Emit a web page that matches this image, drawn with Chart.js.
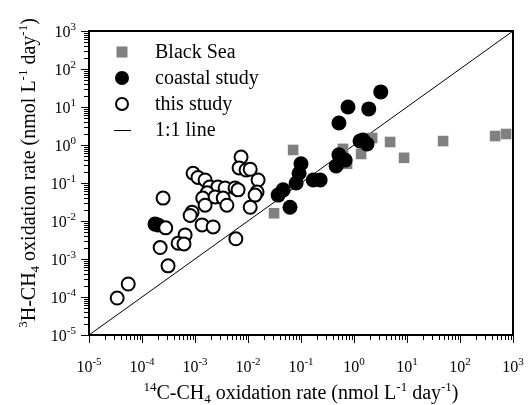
<!DOCTYPE html>
<html>
<head>
<meta charset="utf-8">
<script src="https://cdn.jsdelivr.net/npm/chart.js@4.4.1/dist/chart.umd.min.js"></script>
<style>
  html, body { margin: 0; padding: 0; background: #fff; }
</style>
</head>
<body>
<canvas id="grafico" width="529" height="405"></canvas>
<script>
// Decades shown on both log axes
const decades = [-5, -4, -3, -2, -1, 0, 1, 2, 3];

// Black Sea (gray squares)
const blackSeaX = [0.071, 0.62, 0.74, 1.36, 2.2, 4.8, 8.8, 48, 460, 740, 0.031];
const blackSeaY = [0.74, 0.79, 0.32, 0.58, 1.53, 1.2, 0.46, 1.27, 1.72, 1.95, 0.016];

// coastal study (filled circles)
const coastalX = [3.2, 0.77, 1.9, 0.52, 1.48, 1.76, 1.3, 0.52, 0.68, 0.46, 0.10, 0.092, 0.081, 0.17, 0.23, 0.046, 0.037, 0.062, 0.0002, 0.000176];
const coastalY = [25, 10, 8.9, 3.8, 1.35, 1.06, 1.27, 0.55, 0.40, 0.28, 0.32, 0.18, 0.10, 0.12, 0.12, 0.066, 0.048, 0.023, 0.0079, 0.0083];

// this study (open circles)
const thisStudyX = [0.0074, 0.0068, 0.0092, 0.011, 0.00092, 0.00114, 0.00155, 0.0155, 0.0019, 0.0027, 0.0037, 0.0057, 0.0065, 0.0017, 0.0148, 0.0136, 0.0014, 0.0024, 0.0034, 0.00155, 0.0040, 0.011, 0.00088, 0.00081, 0.00025, 0.00136, 0.0022, 0.00028, 0.00065, 0.00048, 0.00062, 0.00022, 0.0059, 0.000034, 0.000055, 0.00031];
const thisStudyY = [0.48, 0.25, 0.22, 0.23, 0.18, 0.14, 0.12, 0.12, 0.079, 0.079, 0.074, 0.074, 0.066, 0.055, 0.058, 0.048, 0.040, 0.043, 0.040, 0.026, 0.026, 0.023, 0.017, 0.014, 0.040, 0.0079, 0.0070, 0.0066, 0.0043, 0.0026, 0.0025, 0.0020, 0.0034, 0.000094, 0.00022, 0.00066];

// 1:1 line end points
const lineX = [1e-5, 1e3];
const lineY = [1e-5, 1e3];

const legendLabels = ['Black Sea', 'coastal study', 'this study', '1:1 line'];

const FONT = '"Liberation Serif", "Times New Roman", serif';

function pts(xs, ys) {
    return xs.map((x, i) => ({ x: x, y: ys[i] }));
}

// ticks 1..9 x 10^n for each decade
function buildLogTicks(scale) {
    const t = [];
    decades.forEach((d, i) => {
        if (i === decades.length - 1) {
            t.push({ value: Math.pow(10, d), major: true });
            return;
        }
        for (let k = 1; k <= 9; k++) {
            t.push({ value: k * Math.pow(10, d), major: k === 1 });
        }
    });
    scale.ticks = t;
}

// draws "10" with a raised exponent
function drawPower(ctx, exp, x, y, align) {
    const base = '10';
    const sup = String(exp);
    ctx.font = '16px ' + FONT;
    const wb = ctx.measureText(base).width;
    ctx.font = '11px ' + FONT;
    const we = ctx.measureText(sup).width;
    let start = align === 'center' ? x - (wb + we) / 2 : x - wb - we;
    ctx.textAlign = 'left';
    ctx.textBaseline = 'alphabetic';
    ctx.font = '16px ' + FONT;
    ctx.fillText(base, start, y);
    ctx.font = '11px ' + FONT;
    ctx.fillText(sup, start + wb, y - 7);
}

// rich text with super/subscripts, centered at x
function drawRich(ctx, parts, cx, y) {
    const big = '20px ' + FONT, small = '13px ' + FONT;
    let total = 0;
    parts.forEach(p => {
        ctx.font = p[1] === 'n' ? big : small;
        total += ctx.measureText(p[0]).width;
    });
    let x = cx - total / 2;
    ctx.textAlign = 'left';
    ctx.textBaseline = 'alphabetic';
    parts.forEach(p => {
        ctx.font = p[1] === 'n' ? big : small;
        const dy = p[1] === 'sup' ? -8 : (p[1] === 'sub' ? 4 : 0);
        ctx.fillText(p[0], x, y + dy);
        x += ctx.measureText(p[0]).width;
    });
}

const eixosPlugin = {
    id: 'eixos',
    afterDraw(chart) {
        const ctx = chart.ctx;
        const area = chart.chartArea;
        const xs = chart.scales.x, ys = chart.scales.y;
        ctx.save();
        ctx.fillStyle = '#000';
        ctx.strokeStyle = '#000';

        // ticks
        ctx.lineWidth = 1;
        xs.ticks.forEach(t => {
            const px = Math.round(xs.getPixelForValue(t.value)) + 0.5;
            const len = t.major ? 8 : 5;
            ctx.beginPath();
            ctx.moveTo(px, area.bottom);
            ctx.lineTo(px, area.bottom + len);
            ctx.stroke();
        });
        ys.ticks.forEach(t => {
            const py = Math.round(ys.getPixelForValue(t.value)) + 0.5;
            const len = t.major ? 8 : 5;
            ctx.beginPath();
            ctx.moveTo(area.left, py);
            ctx.lineTo(area.left - len, py);
            ctx.stroke();
        });

        // box
        ctx.lineWidth = 2;
        ctx.strokeRect(area.left, area.top, area.right - area.left, area.bottom - area.top);

        // tick labels
        decades.forEach(d => {
            const v = Math.pow(10, d);
            drawPower(ctx, d, xs.getPixelForValue(v), 372, 'center');
            drawPower(ctx, d, 76, ys.getPixelForValue(v) + 5.5, 'right');
        });

        // axis titles
        drawRich(ctx, [['14', 'sup'], ['C-CH', 'n'], ['4', 'sub'], [' oxidation rate (nmol L', 'n'], ['-1', 'sup'], [' day', 'n'], ['-1', 'sup'], [')', 'n']],
            (area.left + area.right) / 2, 399);
        ctx.save();
        ctx.translate(35, 173);
        ctx.rotate(-Math.PI / 2);
        drawRich(ctx, [['3', 'sup'], ['H-CH', 'n'], ['4', 'sub'], [' oxidation rate (nmol L', 'n'], ['-1', 'sup'], [' day', 'n'], ['-1', 'sup'], [')', 'n']],
            0, 0);
        ctx.restore();

        // legend
        const rows = [52, 78, 104, 130];
        const mx = 122;
        ctx.fillStyle = '#808080';
        ctx.fillRect(mx - 5.5, rows[0] - 5.5, 11, 11);
        ctx.fillStyle = '#000';
        ctx.beginPath();
        ctx.arc(mx, rows[1], 7, 0, Math.PI * 2);
        ctx.fill();
        ctx.lineWidth = 2;
        ctx.beginPath();
        ctx.arc(mx, rows[2], 6, 0, Math.PI * 2);
        ctx.fillStyle = '#fff';
        ctx.fill();
        ctx.stroke();
        ctx.lineWidth = 1;
        ctx.beginPath();
        ctx.moveTo(114, rows[3] + 0.5);
        ctx.lineTo(131, rows[3] + 0.5);
        ctx.stroke();
        ctx.fillStyle = '#000';
        ctx.font = '20px ' + FONT;
        ctx.textAlign = 'left';
        ctx.textBaseline = 'middle';
        legendLabels.forEach((l, i) => ctx.fillText(l, 155, rows[i] + 1));

        ctx.restore();
    }
};

const ctx = document.getElementById('grafico').getContext('2d');
new Chart(ctx, {
    type: 'scatter',
    data: {
        datasets: [
            {
                label: legendLabels[0],
                data: pts(blackSeaX, blackSeaY),
                pointStyle: 'rect',
                pointRadius: 7.5,
                backgroundColor: '#808080',
                borderColor: '#808080',
                borderWidth: 0,
                order: 2
            },
            {
                label: legendLabels[1],
                data: pts(coastalX, coastalY),
                pointStyle: 'circle',
                pointRadius: 7.5,
                backgroundColor: '#000',
                borderColor: '#000',
                borderWidth: 0,
                order: 1
            },
            {
                label: legendLabels[2],
                data: pts(thisStudyX, thisStudyY),
                pointStyle: 'circle',
                pointRadius: 6.5,
                backgroundColor: '#fff',
                borderColor: '#000',
                borderWidth: 2,
                order: 0
            },
            {
                label: legendLabels[3],
                data: pts(lineX, lineY),
                showLine: true,
                pointRadius: 0,
                borderColor: '#000',
                borderWidth: 1,
                order: 3
            }
        ]
    },
    options: {
        responsive: false,
        animation: false,
        layout: { padding: { top: 31, right: 16, left: 0, bottom: 0 } },
        plugins: {
            legend: { display: false },
            tooltip: { enabled: false }
        },
        scales: {
            x: {
                type: 'logarithmic',
                min: 1e-5,
                max: 1e3,
                grid: { display: false },
                border: { display: false },
                ticks: { display: false },
                afterBuildTicks: buildLogTicks,
                afterFit: s => { s.height = 70; }
            },
            y: {
                type: 'logarithmic',
                min: 1e-5,
                max: 1e3,
                grid: { display: false },
                border: { display: false },
                ticks: { display: false },
                afterBuildTicks: buildLogTicks,
                afterFit: s => { s.width = 89; }
            }
        }
    },
    plugins: [eixosPlugin]
});
</script>
</body>
</html>
